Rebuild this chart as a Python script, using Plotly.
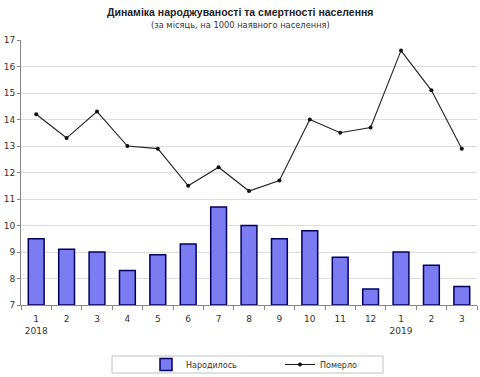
import plotly.graph_objects as go

months = ["1", "2", "3", "4", "5", "6", "7", "8", "9", "10", "11", "12", "1", "2", "3"]
years = {0: "2018", 12: "2019"}
born = [9.5, 9.1, 9.0, 8.3, 8.9, 9.3, 10.7, 10.0, 9.5, 9.8, 8.8, 7.6, 9.0, 8.5, 7.7]
died = [14.2, 13.3, 14.3, 13.0, 12.9, 11.5, 12.2, 11.3, 11.7, 14.0, 13.5, 13.7, 16.6, 15.1, 12.9]

x = list(range(len(months)))
ticktext = [m + ("<br>" + years[i] if i in years else "") for i, m in enumerate(months)]

font = "DejaVu Sans"
H = 265.0  # plot height in px


def py(pix):
    return (305 - pix) / H


def px(pix):
    return (pix - 21) / 456.0


fig = go.Figure()
fig.add_trace(go.Bar(
    x=x, y=[b - 7 for b in born], base=7, name="Народилось", width=0.52,
    marker=dict(color="#7b7bf2", line=dict(color="#000060", width=1.5)),
))
fig.add_trace(go.Scatter(
    x=x, y=died, name="Померло", mode="lines+markers",
    line=dict(color="#222222", width=1.1), marker=dict(size=4, color="#111111"),
))
fig.add_trace(go.Scatter(x=[-0.5, 14.5], y=[7, 7], xaxis="x2", mode="lines",
                         line=dict(width=0), showlegend=False, hoverinfo="skip"))

fig.update_layout(
    width=480, height=377,
    margin=dict(l=21, r=3, t=40, b=72, autoexpand=False),
    paper_bgcolor="white", plot_bgcolor="white",
    font=dict(family=font, size=9, color="#333333"),
    annotations=[
        dict(text="<b>Динаміка народжуваності та смертності населення</b>",
             xref="paper", yref="paper", x=px(240), y=py(12), xanchor="center",
             yanchor="middle", showarrow=False,
             font=dict(family="Liberation Sans", size=10.5, color="#222222")),
        dict(text="(за місяць, на 1000 наявного населення)",
             xref="paper", yref="paper", x=px(240), y=py(25), xanchor="center",
             yanchor="middle", showarrow=False,
             font=dict(family=font, size=8.3, color="#333333")),
    ],
    shapes=[dict(type="rect", xref="paper", yref="paper",
                 x0=px(112), x1=px(383), y0=py(356), y1=py(373),
                 line=dict(color="#c0c0c0", width=1), fillcolor="rgba(0,0,0,0)")],
    xaxis=dict(range=[-0.5, 14.5], tickvals=x, ticktext=ticktext, ticks="",
               showline=True, linecolor="#888888", showgrid=False, zeroline=False,
               automargin=False, ticklabelstandoff=5, tickfont=dict(size=9, color="#333333")),
    xaxis2=dict(range=[-0.5, 14.5], overlaying="x", tickvals=[i - 0.5 for i in range(16)],
                showticklabels=False, ticks="outside", ticklen=4, tickcolor="#888888",
                showgrid=False, zeroline=False, showline=False, anchor="y", side="bottom",
                automargin=False),
    yaxis=dict(range=[7, 17], dtick=1, showgrid=True, gridcolor="#dddddd",
               showline=True, linecolor="#888888", ticks="outside", ticklen=3,
               tickcolor="#888888", zeroline=False, automargin=False,
               tickfont=dict(size=9, color="#333333")),
    legend=dict(orientation="h", x=px(146), xanchor="left", y=py(364.5), yanchor="middle",
                borderwidth=0, entrywidth=89, bgcolor="rgba(0,0,0,0)",
                font=dict(size=8, color="#333333"), itemwidth=30, tracegroupgap=0),
    showlegend=True,
)
fig.write_html("out.html", post_script="document.body.style.margin='0';",
               config={"displayModeBar": False})
